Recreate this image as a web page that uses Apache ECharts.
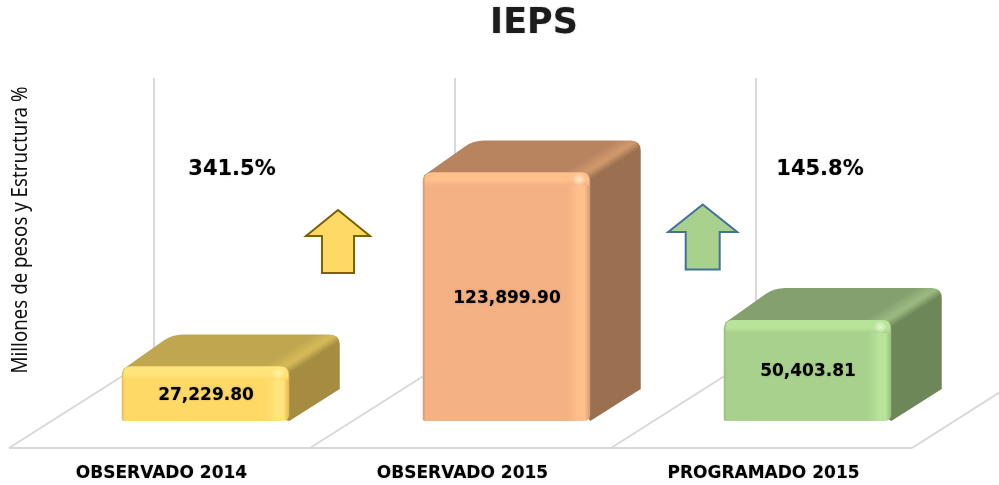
<!DOCTYPE html>
<html>
<head>
<meta charset="utf-8">
<style>html,body{margin:0;padding:0;background:#fff}#c{width:999px;height:485px}</style>
<script src="https://cdn.jsdelivr.net/npm/echarts@6/dist/echarts.min.js"></script>
</head>
<body>
<div id="c"></div>
<script>
const categories = ['OBSERVADO 2014', 'OBSERVADO 2015', 'PROGRAMADO 2015'];
const values = [27229.80, 123899.90, 50403.81];
const valueLabels = ['27,229.80', '123,899.90', '50,403.81'];
const percentLabels = ['341.5%', '145.8%'];
const titleText = 'IEPS';
const axisTitle = 'Millones de pesos y Estructura %';

const palettes = [
  {edge:'#E3B84E', base:'#FFD966', light:'#FFE47C', top:'#BFA64F', topEdge:'#D4B858', side:'#A58C41', hi:'#FFF3A8'},
  {edge:'#D59A70', base:'#F4B183', light:'#FFC08C', top:'#B88460', topEdge:'#CE966A', side:'#9A7050', hi:'#FFE8C8'},
  {edge:'#98BC7D', base:'#A9D18E', light:'#B8E49A', top:'#84A06F', topEdge:'#99B880', side:'#6E8759', hi:'#E2F8CC'}
];
const FONT = '"DejaVu Sans", sans-serif';
const DX = 50.5, DY = 32;           // extrusion of the boxes
const BAR_W = 167.5, BAR_SHIFT = 46; // width, shift of front face from band centre
const FLOOR_DROP = 27;              // floor front edge below the value-axis zero
const FLOOR_DX = 145, FLOOR_DY = 92, WALL_TOP = 78;

function roundPoly(pts) {
  const n = pts.length; let d = '';
  for (let i = 0; i < n; i++) {
    const p = pts[i], a = pts[(i + n - 1) % n], b = pts[(i + 1) % n], r = p[2];
    const la = Math.hypot(a[0]-p[0], a[1]-p[1]), lb = Math.hypot(b[0]-p[0], b[1]-p[1]);
    const s = [p[0] + (a[0]-p[0]) * r / la, p[1] + (a[1]-p[1]) * r / la];
    const e = [p[0] + (b[0]-p[0]) * r / lb, p[1] + (b[1]-p[1]) * r / lb];
    d += (i ? 'L' : 'M') + s[0] + ' ' + s[1] + 'Q' + p[0] + ' ' + p[1] + ' ' + e[0] + ' ' + e[1];
  }
  return d + 'Z';
}
function pathEl(pts, style, z2) {
  const xs = pts.map(p => p[0]), ys = pts.map(p => p[1]);
  const x0 = Math.min(...xs), y0 = Math.min(...ys);
  return {type:'path', z2, style,
    shape:{pathData: roundPoly(pts), layout:'cover', x:x0, y:y0, width:Math.max(...xs)-x0, height:Math.max(...ys)-y0}};
}
function lin(h, stops) {
  return {type:'linear', x:0, y:0, x2:h?1:0, y2:h?0:1, colorStops:stops.map(s => ({offset:s[0], color:s[1]}))};
}

function renderFrame(params, api) {
  const i = api.value(0);
  const c0 = api.coord([0, 0]), c1 = api.coord([1, 0]);
  const band = c1[0] - c0[0];
  const c = api.coord([i, 0]);
  const yF = c[1] + FLOOR_DROP, style = {stroke:'#D9D9D9', lineWidth:2, fill:null};
  const kids = [];
  const add = (x) => {
    kids.push({type:'polyline', style, shape:{points:[[x, yF],[x + FLOOR_DX, yF - FLOOR_DY],[x + FLOOR_DX, WALL_TOP]]}});
  };
  add(c[0] - band / 2);
  if (i === categories.length - 1) add(c[0] + band / 2);
  kids.push({type:'line', style, shape:{x1:c[0]-band/2, y1:yF, x2:c[0]+band/2, y2:yF}});
  return {type:'group', children:kids};
}

function renderBox(params, api) {
  const i = api.value(0), p = palettes[i];
  const top = api.coord([i, api.value(1)]), base = api.coord([i, 0]);
  const L = top[0] + BAR_SHIFT - BAR_W / 2, R = L + BAR_W, T = top[1], B = base[1], H = B - T;
  const kids = [];
  // top + right faces: one silhouette, shaded across the ridge between them
  const cx = R + 20.5, cy = T - 17.5, nx = 0.535, ny = 0.845, hw = 10;
  kids.push(pathEl([[L+1,T+3,0],[L+DX,T-DY,11],[R+DX,T-DY,10],[R+DX,B-DY,0],[R,B,0]], {
    fill:{type:'linear', global:true, x:cx-nx*hw, y:cy-ny*hw, x2:cx+nx*hw, y2:cy+ny*hw,
      colorStops:[{offset:0,color:p.top},{offset:.5,color:p.topEdge},{offset:.62,color:p.topEdge},{offset:1,color:p.side}]}
  }, 1));
  // front face
  kids.push(pathEl([[L,T,9],[R,T,9],[R,B,7],[L,B,2]], {fill:lin(true,[[0,p.edge],[0.018,p.base],[0.86,p.base],[0.93,p.light],[0.965,p.light],[1,p.edge]])}, 4));
  // top bevel of the front face
  kids.push(pathEl([[L+2,T,8],[R-1,T,8],[R-1,T+13,0],[L+2,T+13,0]], {fill:lin(false,[[0,p.light],[0.6,p.light],[1,p.base]])}, 5));
  // corner highlight
  kids.push({type:'circle', z2:6, shape:{cx:R-11, cy:T+7, r:7},
    style:{fill:{type:'radial', x:.5, y:.5, r:.5, colorStops:[{offset:0,color:p.hi},{offset:1,color:p.hi+'00'}]}}});
  // value
  kids.push({type:'text', z2:7, x:(L+R)/2 + 0.5, y:T+H/2 + 1.5, style:{text:valueLabels[i], align:'center', verticalAlign:'middle',
    fill:'#000', font:'bold 17px ' + FONT, textShadowColor:'rgba(0,0,0,.25)', textShadowBlur:2}});
  return {type:'group', children:kids};
}

const arrowDefs = [
  {fill:'#FFD966', stroke:'#7F6000', tip:[338,210], wing:32, wy:236, shaft:16, bottom:273},
  {fill:'#A9D18E', stroke:'#41719C', tip:[702.7,204.5], wing:34.5, wy:232, shaft:17, bottom:269.5}
];
function arrowGraphic(a) {
  const x = a.tip[0];
  return {type:'polygon', z:5, silent:true, shape:{points:[a.tip,[x+a.wing,a.wy],[x+a.shaft,a.wy],[x+a.shaft,a.bottom],[x-a.shaft,a.bottom],[x-a.shaft,a.wy],[x-a.wing,a.wy]]},
    style:{fill:a.fill, stroke:a.stroke, lineWidth:2}};
}
const pctPos = [[232,170],[820,170]];

const chart = echarts.init(document.getElementById('c'));
chart.setOption({
  animation:false,
  backgroundColor:'#fff',
  title:{text:titleText, top:6, padding:0, itemGap:0, left:534, textAlign:'center',
    textStyle:{fontFamily:'"DejaVu Sans"', fontWeight:'bold', fontSize:35, color:'#1c1c1c', textShadowColor:'rgba(0,0,0,.25)', textShadowBlur:2}},
  grid:{left:9, width:903, top:40, bottom:64, outerBoundsMode:'none'},
  xAxis:{type:'category', data:categories, axisLine:{show:false}, axisTick:{show:false}, splitLine:{show:false},
    axisLabel:{margin:44, interval:0, padding:[0,0,0,4], color:'#000', fontFamily:FONT, fontWeight:'bold', fontSize:17, textShadowColor:'rgba(0,0,0,.25)', textShadowBlur:2}},
  yAxis:{type:'value', min:0, max:190000, axisLine:{show:false}, axisTick:{show:false}, axisLabel:{show:false}, splitLine:{show:false}},
  graphic:[...arrowDefs.map(arrowGraphic),
    {type:'text', z:5, silent:true, x:21, y:230, rotation:Math.PI/2, scaleX:0.85,
      style:{text:axisTitle, align:'center', verticalAlign:'middle', fill:'#111', font:'22px "Noto Sans"'}},
    ...percentLabels.map((t,i)=>({type:'text', z:5, silent:true, x:pctPos[i][0], y:pctPos[i][1],
      style:{text:t, align:'center', verticalAlign:'middle', fill:'#000', font:'bold 21px ' + FONT, textShadowColor:'rgba(0,0,0,.25)', textShadowBlur:2}}))],
  series:[
    {type:'custom', silent:true, z:1, clip:false, renderItem:renderFrame, data:categories.map((c,i)=>[i,0]), encode:{x:0,y:1}},
    {type:'custom', silent:true, z:2, clip:false, renderItem:renderBox, data:values.map((v,i)=>[i,v]), encode:{x:0,y:1}}
  ]
});
</script>
</body>
</html>
